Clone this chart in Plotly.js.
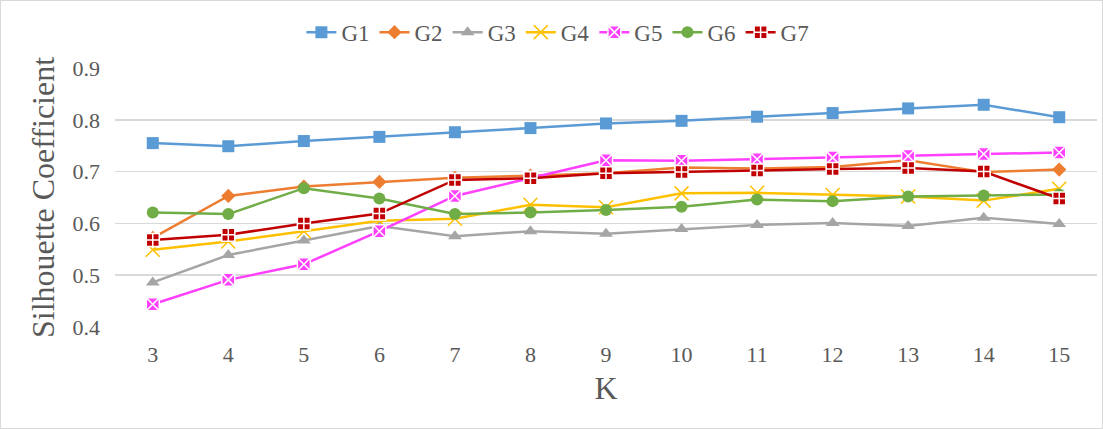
<!DOCTYPE html>
<html><head><meta charset="utf-8">
<script src="https://cdn.plot.ly/plotly-3.0.1.min.js"></script>
<style>html,body{margin:0;padding:0;background:#fff;}#wrap{position:relative;width:1103px;height:429px;}#chart{width:1103px;height:429px;}#frame{position:absolute;left:0;top:0;width:1103px;height:429px;box-sizing:border-box;border:1px solid #d9d9d9;pointer-events:none;}</style>
</head><body>
<div id="wrap"><div id="chart"></div><div id="frame"></div></div>
<script>
const K = [3,4,5,6,7,8,9,10,11,12,13,14,15];
const G1 = [0.755,0.749,0.759,0.767,0.776,0.784,0.793,0.798,0.806,0.813,0.822,0.829,0.805];
const G2 = [0.572,0.653,0.671,0.680,0.688,0.692,0.697,0.708,0.706,0.709,0.722,0.699,0.704];
const G3 = [0.486,0.539,0.567,0.595,0.575,0.585,0.580,0.589,0.597,0.601,0.595,0.611,0.599];
const G4 = [0.549,0.565,0.585,0.605,0.609,0.636,0.631,0.658,0.659,0.655,0.652,0.644,0.667];
const G5 = [0.444,0.491,0.521,0.585,0.653,0.688,0.722,0.721,0.724,0.727,0.730,0.734,0.737];
const G6 = [0.621,0.618,0.668,0.648,0.618,0.621,0.626,0.632,0.646,0.643,0.652,0.654,0.656];
const G7 = [0.568,0.578,0.600,0.619,0.684,0.687,0.697,0.699,0.702,0.705,0.707,0.700,0.648];
const names = ['G1','G2','G3','G4','G5','G6','G7'];
const series = [G1,G2,G3,G4,G5,G6,G7];
const colors = ['#5B9BD5','#ED7D31','#A5A5A5','#FFC000','#FF40FF','#70AD47','#C00000'];
const symbols = ['square','diamond','triangle-up','x-thin','square-x','circle','square-cross'];
const sizes = [12,11,12,14,13,12,13];
const traces = series.map((ys,i)=>{
  const m = {symbol:symbols[i], color:colors[i], size:sizes[i]};
  if (symbols[i]==='x-thin') m.line = {color:colors[i], width:1.5};
  else if (symbols[i]==='square-x' || symbols[i]==='square-cross') m.line = {color:'#ffffff', width:1.5};
  else m.line = {width:0};
  return {x:K, y:ys, name:names[i], type:'scatter', mode:'lines+markers',
    line:{color:colors[i], width:2.5}, marker:m};
});
const layout = {
  width:1103, height:429,
  margin:{l:115, r:6, t:68, b:102},
  paper_bgcolor:'#ffffff', plot_bgcolor:'#ffffff',
  font:{family:'"Liberation Serif", "Times New Roman", serif', color:'#595959', size:22},
  showlegend:true,
  legend:{orientation:'h', x:0.451, xanchor:'center', y:0.925, yanchor:'middle', yref:'container',
    font:{size:23, color:'#595959'}, traceorder:'normal'},
  xaxis:{type:'linear', range:[2.5,15.5], tickvals:K, ticktext:K.map(String), showgrid:false, zeroline:false,
    showline:false, ticks:'', tickfont:{size:22, color:'#595959'}, ticklabelstandoff:12,
    title:{text:'K', font:{size:32, color:'#595959'}, standoff:10}},
  yaxis:{range:[0.4,0.9], dtick:0.1, tickformat:'.1f', showgrid:true, gridcolor:'#D9D9D9', gridwidth:1.5,
    zeroline:false, showline:false, ticks:'', tickfont:{size:22, color:'#595959'}, ticklabelstandoff:14,
    title:{text:'Silhouette Coefficient', font:{size:32, color:'#595959'}, standoff:8}}
};
Plotly.newPlot('chart', traces, layout, {displayModeBar:false, staticPlot:true});
</script>
</body></html>
